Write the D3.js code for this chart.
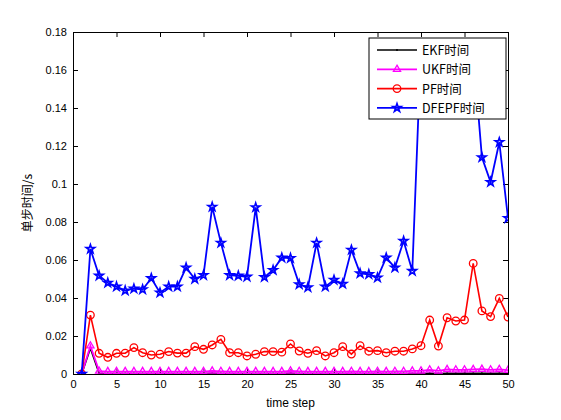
<!DOCTYPE html>
<html>
<head>
<meta charset="utf-8">
<script src="https://cdn.jsdelivr.net/npm/d3@7"></script>
<style>
  body { margin: 0; background: #fff; }
  svg text { font-family: "Liberation Sans", Arial, sans-serif; }
</style>
</head>
<body>
<div id="chart"></div>
<script>
(function() {
    // chart values
    const steps = d3.range(1, 51);
    const ekf = [0, 0.0135, 0.0004, 0.0003, 0.0003, 0.0003, 0.0003, 0.0003, 0.0003, 0.0003,
                 0.0003, 0.0003, 0.0003, 0.0003, 0.0003, 0.0004, 0.0003, 0.0003, 0.0003, 0.0003,
                 0.0003, 0.0003, 0.0003, 0.0003, 0.0004, 0.0003, 0.0003, 0.0003, 0.0003, 0.0003,
                 0.0003, 0.0003, 0.0003, 0.0003, 0.0003, 0.0003, 0.0003, 0.0003, 0.0003, 0.0003,
                 0.0004, 0.0003, 0.0004, 0.0004, 0.0004, 0.0004, 0.0004, 0.0004, 0.0004, 0.0004];
    const ukf = [0, 0.0148, 0.0015, 0.0013, 0.0013, 0.0013, 0.0013, 0.0013, 0.0013, 0.0013,
                 0.0013, 0.0013, 0.0013, 0.0013, 0.0013, 0.0016, 0.0014, 0.0013, 0.0013, 0.0013,
                 0.0013, 0.0013, 0.0013, 0.0013, 0.0016, 0.0014, 0.0013, 0.0013, 0.0013, 0.0013,
                 0.0013, 0.0014, 0.0013, 0.0013, 0.0014, 0.0013, 0.0014, 0.0014, 0.0016, 0.0016,
                 0.0022, 0.0016, 0.0024, 0.0022, 0.0022, 0.0024, 0.0025, 0.0022, 0.0024, 0.0020];
    const pf = [0, 0.031, 0.0109, 0.0088, 0.0109, 0.011, 0.0139, 0.0112, 0.010, 0.0104,
                0.0118, 0.011, 0.011, 0.0144, 0.013, 0.0153, 0.0182, 0.0112, 0.0112, 0.0095,
                0.0104, 0.0118, 0.0118, 0.0115, 0.0158, 0.0121, 0.0109, 0.0123, 0.0095, 0.0112,
                0.0144, 0.0105, 0.0149, 0.012, 0.0123, 0.0112, 0.012, 0.012, 0.0132, 0.0149,
                0.0284, 0.0147, 0.0296, 0.0279, 0.0284, 0.0582, 0.0332, 0.0302, 0.0398, 0.030];
    const dfepf = [0, 0.0658, 0.0517, 0.048, 0.046, 0.0439, 0.0449, 0.0445, 0.0504, 0.0428,
                   0.046, 0.046, 0.056, 0.050, 0.052, 0.088, 0.069, 0.052, 0.0517, 0.0512,
                   0.0877, 0.051, 0.0547, 0.0612, 0.061, 0.0472, 0.0456, 0.069, 0.046, 0.0495,
                   0.0474, 0.0653, 0.053, 0.0525, 0.0507, 0.0612, 0.056, 0.070, 0.0542, 0.172,
                   0.160, 0.155, 0.165, 0.150, 0.158, 0.170, 0.114, 0.101, 0.122, 0.082];

    const xTicks = d3.range(0, 51, 5);
    const yTicks = d3.range(0, 0.1801, 0.02);

    const series = [
        { name: "EKF时间", values: ekf, color: "#000000", marker: "dot", width: 1.6 },
        { name: "UKF时间", values: ukf, color: "#ff00ff", marker: "triangle", width: 1.8 },
        { name: "PF时间", values: pf, color: "#ff0000", marker: "circle", width: 1.6 },
        { name: "DFEPF时间", values: dfepf, color: "#0000ff", marker: "star", width: 1.8 }
    ];

    /********************************************
     * LAYOUT
     ********************************************/
    const width = 561, height = 420;
    const margin = { left: 73, right: 53, top: 32, bottom: 46 };
    const plotW = width - margin.left - margin.right;
    const plotH = height - margin.top - margin.bottom;

    const svg = d3.select("#chart").append("svg")
        .attr("width", width).attr("height", height);

    const x = d3.scaleLinear().domain([0, 50]).range([0, plotW]);
    const y = d3.scaleLinear().domain([0, 0.18]).range([plotH, 0]);

    svg.append("defs").append("clipPath").attr("id", "plot-clip")
        .append("rect").attr("width", plotW).attr("height", plotH);

    const g = svg.append("g").attr("transform", `translate(${margin.left},${margin.top})`);

    // axes (MATLAB style: ticks inward on all four sides)
    const tickFont = "11px";
    const axB = g.append("g").attr("transform", `translate(0,${plotH})`)
        .call(d3.axisBottom(x).tickValues(xTicks).tickSize(-5).tickPadding(6).tickFormat(d3.format("d")));
    const axT = g.append("g")
        .call(d3.axisTop(x).tickValues(xTicks).tickSize(-5).tickFormat(""));
    const axL = g.append("g")
        .call(d3.axisLeft(y).tickValues(yTicks).tickSize(-5).tickPadding(6).tickFormat(d => +d.toFixed(2)));
    const axR = g.append("g").attr("transform", `translate(${plotW},0)`)
        .call(d3.axisRight(y).tickValues(yTicks).tickSize(-5).tickFormat(""));
    [axB, axT, axL, axR].forEach(a => {
        a.selectAll(".domain").attr("stroke", "#000").attr("stroke-width", 1);
        a.selectAll(".tick line").attr("stroke", "#000");
        a.selectAll("text").attr("fill", "#000").style("font-size", tickFont);
    });

    const lineGen = d3.line().x((d, i) => x(steps[i])).y(d => y(d));
    const plot = g.append("g").attr("clip-path", "url(#plot-clip)");

    function drawMarker(sel, type, color) {
        if (type === "circle") {
            sel.append("circle").attr("r", 3.8)
                .attr("fill", "none").attr("stroke", color).attr("stroke-width", 1.3);
        } else if (type === "triangle") {
            sel.append("path").attr("d", d3.symbol(d3.symbolTriangle, 22)())
                .attr("fill", "none").attr("stroke", color).attr("stroke-width", 1.3);
        } else if (type === "star") {
            sel.append("path").attr("d", d3.symbol(d3.symbolStar, 22)())
                .attr("fill", "none").attr("stroke", color).attr("stroke-width", 1.6);
        } else {
            sel.append("circle").attr("r", 1).attr("fill", color);
        }
    }

    series.forEach(s => {
        plot.append("path").datum(s.values)
            .attr("d", lineGen)
            .attr("fill", "none")
            .attr("stroke", s.color)
            .attr("stroke-width", s.width);
        s.values.forEach((v, i) => {
            const m = plot.append("g").attr("transform", `translate(${x(steps[i])},${y(v)})`);
            drawMarker(m, s.marker, s.color);
        });
    });

    // axis labels
    g.append("text")
        .attr("x", plotW / 2).attr("y", plotH + 33)
        .attr("text-anchor", "middle").style("font-size", "12px")
        .text("time step");
    g.append("text")
        .attr("transform", `translate(${-41},${plotH / 2}) rotate(-90)`)
        .attr("text-anchor", "middle").style("font-size", "12px")
        .style("font-family", "'Noto Sans CJK SC', sans-serif")
        .text("单步时间/s");

    // legend
    const lg = g.append("g").attr("transform", `translate(${296},${6})`);
    lg.append("rect").attr("width", 137).attr("height", 81)
        .attr("fill", "#fff").attr("stroke", "#000").attr("stroke-width", 1);
    series.forEach((s, i) => {
        const row = lg.append("g").attr("transform", `translate(0,${12 + i * 19.3})`);
        row.append("line").attr("x1", 8).attr("x2", 48)
            .attr("stroke", s.color).attr("stroke-width", s.width);
        drawMarker(row.append("g").attr("transform", "translate(28,0)"), s.marker, s.color);
        row.append("text").attr("x", 53).attr("y", 5)
            .style("font-size", "12.5px")
            .style("font-family", "'Noto Sans CJK SC', sans-serif")
            .text(s.name);
    });
})();
</script>
</body>
</html>
